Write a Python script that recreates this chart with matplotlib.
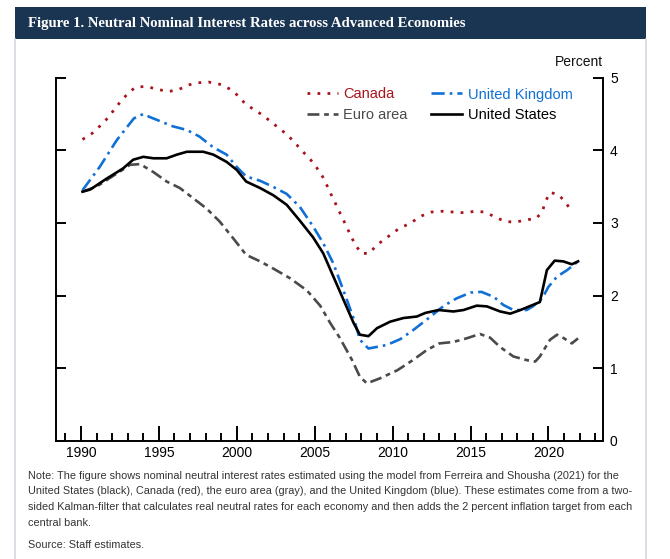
import numpy as np
import matplotlib
matplotlib.use("Agg")
import matplotlib.pyplot as plt
from matplotlib.patches import Rectangle
from matplotlib.lines import Line2D
from matplotlib import font_manager as fm

# ---------------- data ----------------
canada_years = [1990.1, 1990.7, 1991.2, 1991.7, 1992.1, 1992.5, 1993.0, 1993.5, 1994.2, 1994.9,
                1995.6, 1996.2, 1996.9, 1997.5, 1998.2, 1998.9, 1999.5, 2000.1, 2000.5, 2001.1,
                2001.7, 2002.2, 2002.75, 2003.3, 2003.75, 2004.2, 2004.7, 2005.1, 2005.5, 2005.8,
                2006.1, 2006.4, 2006.7, 2007.0, 2007.3, 2007.6, 2008.0, 2008.5, 2009.0, 2009.6,
                2010.1, 2010.7, 2011.3, 2011.9, 2012.5, 2013.2, 2013.9, 2014.6, 2015.3, 2015.9,
                2016.6, 2017.2, 2017.9, 2018.5, 2019.2, 2019.6, 2019.8, 2020.1, 2020.65, 2021.1,
                2021.5]
canada_vals = [4.15, 4.23, 4.33, 4.44, 4.55, 4.66, 4.78, 4.87, 4.88, 4.84,
               4.81, 4.83, 4.90, 4.93, 4.94, 4.91, 4.85, 4.75, 4.65, 4.56,
               4.48, 4.39, 4.30, 4.20, 4.10, 3.99, 3.88, 3.77, 3.64, 3.51,
               3.37, 3.24, 3.10, 2.97, 2.83, 2.70, 2.58, 2.58, 2.70, 2.79,
               2.88, 2.95, 3.02, 3.10, 3.15, 3.16, 3.15, 3.14, 3.16, 3.15,
               3.08, 3.02, 3.01, 3.04, 3.06, 3.15, 3.29, 3.42, 3.39, 3.28,
               3.16]

uk_years = [1990.1, 1991.2, 1992.3, 1993.4, 1994.0, 1994.4, 1995.9, 1996.8, 1997.6, 1998.5,
            1999.35, 2000.0, 2000.6, 2001.5, 2002.3, 2003.2, 2004.05, 2004.9, 2005.55, 2006.2,
            2006.6, 2007.15, 2007.6, 2007.9, 2008.45, 2009.2, 2009.65, 2010.5, 2011.3, 2012.2,
            2013.3, 2014.1, 2015.0, 2015.7, 2016.5, 2017.1, 2017.75, 2018.6, 2019.0, 2019.6,
            2020.0, 2020.55, 2021.2, 2021.9]
uk_vals = [3.45, 3.77, 4.14, 4.44, 4.50, 4.46, 4.33, 4.28, 4.19, 4.04,
           3.94, 3.77, 3.64, 3.58, 3.50, 3.40, 3.22, 2.95, 2.72, 2.44,
           2.21, 1.89, 1.62, 1.39, 1.27, 1.30, 1.32, 1.40, 1.52, 1.67,
           1.86, 1.96, 2.04, 2.05, 1.98, 1.87, 1.80, 1.80, 1.85, 1.96,
           2.12, 2.26, 2.35, 2.47]

euro_years = [1990.1, 1991.0, 1992.3, 1993.15, 1993.8, 1994.65, 1995.5, 1996.35, 1997.2, 1998.05,
              1998.9, 1999.8, 2000.6, 2001.5, 2002.35, 2003.4, 2004.5, 2005.35, 2006.0, 2006.6,
              2007.4, 2007.9, 2008.35, 2009.2, 2010.3, 2011.3, 2012.2, 2013.0, 2013.9, 2014.75,
              2015.6, 2016.25, 2016.9, 2017.75, 2018.6, 2019.15, 2019.45, 2020.1, 2020.55, 2021.0,
              2021.5, 2021.9]
euro_vals = [3.43, 3.50, 3.68, 3.80, 3.81, 3.70, 3.57, 3.48, 3.34, 3.20,
             3.02, 2.78, 2.56, 2.47, 2.37, 2.24, 2.07, 1.86, 1.62, 1.42,
             1.11, 0.88, 0.79, 0.86, 0.97, 1.11, 1.25, 1.34, 1.36, 1.41,
             1.47, 1.42, 1.29, 1.16, 1.11, 1.09, 1.16, 1.39, 1.46, 1.41,
             1.34, 1.41]

us_years = [1990.1, 1990.6, 1991.65, 1992.7, 1993.35, 1994.0, 1994.65, 1995.5, 1996.15, 1996.8,
            1997.85, 1998.5, 1999.35, 2000.0, 2000.6, 2001.5, 2002.35, 2003.2, 2004.05, 2004.9,
            2005.55, 2006.2, 2006.85, 2007.5, 2007.9, 2008.45, 2009.0, 2009.85, 2010.7, 2011.55,
            2012.1, 2012.95, 2013.9, 2014.55, 2015.4, 2016.05, 2016.9, 2017.55, 2018.2, 2019.0,
            2019.45, 2019.9, 2020.4, 2020.95, 2021.5, 2021.9]
us_vals = [3.43, 3.46, 3.61, 3.75, 3.87, 3.91, 3.89, 3.89, 3.94, 3.98,
           3.98, 3.94, 3.84, 3.73, 3.57, 3.48, 3.38, 3.25, 3.03, 2.80,
           2.58, 2.26, 1.94, 1.62, 1.46, 1.44, 1.55, 1.64, 1.69, 1.71,
           1.76, 1.80, 1.78, 1.80, 1.86, 1.85, 1.78, 1.75, 1.80, 1.87,
           1.91, 2.35, 2.48, 2.47, 2.43, 2.47]

series_labels = ["Canada", "United Kingdom", "Euro area", "United States"]
x_major_ticks = [1990, 1995, 2000, 2005, 2010, 2015, 2020]
x_minor_ticks = [y for y in range(1989, 2024) if y % 5 != 0]
y_ticks = [0, 1, 2, 3, 4, 5]

title_text = "Figure 1. Neutral Nominal Interest Rates across Advanced Economies"
note_lines = [
    "Note: The figure shows nominal neutral interest rates estimated using the model from Ferreira and Shousha (2021) for the",
    "United States (black), Canada (red), the euro area (gray), and the United Kingdom (blue). These estimates come from a two-",
    "sided Kalman-filter that calculates real neutral rates for each economy and then adds the 2 percent inflation target from each",
    "central bank.",
]
source_text = "Source: Staff estimates."

# ---------------- styling ----------------
W, H = 670, 559
available = {f.name for f in fm.fontManager.ttflist}
sans = "Liberation Sans" if "Liberation Sans" in available else "DejaVu Sans"
narrow = "Liberation Sans Narrow" if "Liberation Sans Narrow" in available else sans
serif = "Liberation Serif" if "Liberation Serif" in available else "DejaVu Serif"
plt.rcParams["font.family"] = [sans, "DejaVu Sans"]

c_canada = "#a8141c"
c_uk = "#1170d6"
c_euro = "#4a4a4a"
c_us = "#000000"
navy = "#1a3552"
border = "#d3d9e1"


def fx(px):
    return px / W


def fy(py):
    return 1 - py / H


fig = plt.figure(figsize=(W / 100, H / 100), dpi=100)
fig.patch.set_facecolor("white")

# title bar and frame
fig.add_artist(Rectangle((fx(15), fy(39)), fx(646) - fx(15), fy(7) - fy(39),
                         transform=fig.transFigure, facecolor=navy, edgecolor="none"))
for xb in (15, 646):
    fig.add_artist(Line2D([fx(xb), fx(xb)], [fy(39), fy(559)], transform=fig.transFigure,
                          color=border, lw=1.2))

# axes
ax = fig.add_axes([fx(56), fy(440.7), fx(603) - fx(56), fy(77.7) - fy(440.7)])
ax.set_xlim(1988.4, 2023.5)
ax.set_ylim(0, 5)

lw = 1.9
ax.plot(canada_years, canada_vals, color=c_canada, lw=2.0, ls=(0, (1, 2.6)), label=series_labels[0])
ax.plot(euro_years, euro_vals, color=c_euro, lw=lw, ls=(0, (4.5, 1.8, 1.8, 1.8)), label=series_labels[2])
ax.plot(uk_years, uk_vals, color=c_uk, lw=lw, ls=(0, (5, 1.9, 1, 1.9)), label=series_labels[1])
ax.plot(us_years, us_vals, color=c_us, lw=lw, ls="-", label=series_labels[3])

ax.spines["top"].set_visible(False)
for s in ("left", "right", "bottom"):
    ax.spines[s].set_linewidth(1.4)

ax.set_xticks(x_major_ticks)
ax.set_xticks(x_minor_ticks, minor=True)
ax.set_xticklabels([str(t) for t in x_major_ticks])
ax.set_yticks(y_ticks)
ax.set_yticklabels([str(t) for t in y_ticks])
ax.tick_params(axis="x", which="major", direction="in", length=10.8, width=1.4, pad=4,
               labelsize=10, top=False)
ax.tick_params(axis="x", which="minor", direction="in", length=5.8, width=1.4, top=False)
ax.tick_params(axis="y", which="major", direction="in", length=7.2, width=1.4, pad=5,
               left=True, right=True, labelleft=False, labelright=True, labelsize=10)

fig.text(fx(603), fy(62), "Percent", ha="right", va="center", fontsize=10, color="#111111")

handles, labels = ax.get_legend_handles_labels()
leg = ax.legend(handles, labels, ncol=2,
                loc="upper left", bbox_to_anchor=(fx(307), fy(87.5)), bbox_transform=fig.transFigure,
                frameon=False, fontsize=10.5, borderpad=0, borderaxespad=0,
                handlelength=2.1, handletextpad=0.4, columnspacing=1.6, labelspacing=0.45,
                labelcolor=[c_canada, c_euro, c_uk, c_us])

# title
renderer = fig.canvas.get_renderer()
t = fig.text(fx(28), fy(23), title_text, ha="left", va="center", color="white",
             fontsize=10, family=serif, weight="bold")
w = t.get_window_extent(renderer).width
t.set_fontsize(10 * (467 - 28) / w)

# notes
note_y = [476, 491.5, 507, 522.5]
texts = []
for line, yy in zip(note_lines, note_y):
    texts.append(fig.text(fx(28), fy(yy), line, ha="left", va="center", color="#333333",
                          fontsize=9, family=narrow))
src = fig.text(fx(28), fy(545), source_text, ha="left", va="center", color="#333333",
               fontsize=9, family=narrow)
wmax = max(tt.get_window_extent(renderer).width for tt in texts)
fs = 9 * (630 - 28) / wmax
for tt in texts:
    tt.set_fontsize(fs)
src.set_fontsize(fs)

fig.savefig("out.png", dpi=100)
